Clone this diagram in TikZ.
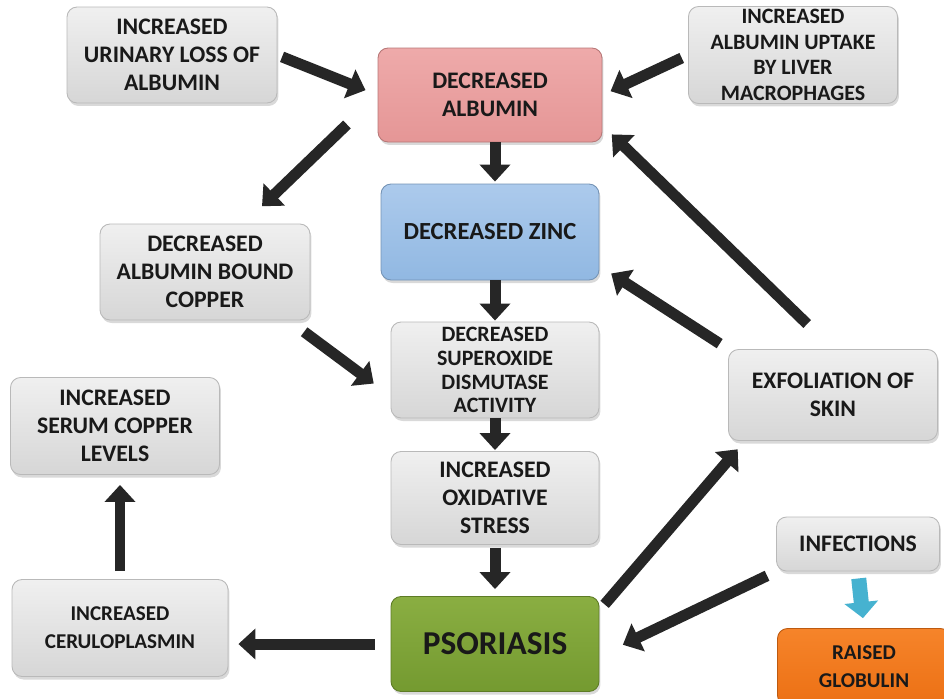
\documentclass[tikz,border=0pt]{standalone}
\usepackage{fontspec}
\setmainfont{Carlito}
\usetikzlibrary{arrows.meta,calc,shadows}

\definecolor{pinktop}{RGB}{238,170,170}
\definecolor{pinkbot}{RGB}{229,150,150}
\definecolor{bluetop}{RGB}{172,202,236}
\definecolor{bluebot}{RGB}{145,184,226}
\definecolor{greentop}{RGB}{138,174,66}
\definecolor{greenbot}{RGB}{116,154,48}
\definecolor{orangetop}{RGB}{246,132,42}
\definecolor{orangebot}{RGB}{236,112,20}
\definecolor{arrowgrey}{RGB}{38,38,38}
\definecolor{arrowcyan}{RGB}{70,178,208}

\begin{document}
\begin{tikzpicture}[x=0.02cm, y=-0.02cm,
    box/.style={rectangle, rounded corners=0.2cm, draw=gray!55, line width=0.5pt,
      align=center, inner sep=1pt, text=black!90,
      font=\fontsize{13.5}{16}\selectfont\bfseries,
      drop shadow={opacity=0.3, shadow xshift=0.03cm, shadow yshift=-0.06cm}},
    greybox/.style={box, top color=gray!12, bottom color=gray!32},
    pinkbox/.style={box, top color=pinktop, bottom color=pinkbot, draw=pinkbot!80!black},
    bluebox/.style={box, top color=bluetop, bottom color=bluebot, draw=bluebot!80!black},
    greenbox/.style={box, top color=greentop, bottom color=greenbot, draw=greenbot!80!black},
    orangebox/.style={box, top color=orangetop, bottom color=orangebot, draw=orangebot!80!black},
    bigarrow/.style={-{Triangle[width=0.6cm,length=0.34cm]}, line width=0.22cm, draw=arrowgrey},
    cyanarrow/.style={-{Triangle[width=0.66cm,length=0.32cm]}, line width=0.3cm, draw=arrowcyan}]
  \useasboundingbox (0,0) rectangle (944,698);
  \clip (0,0) rectangle (944,698);
  % Boxes
  \node[greybox, minimum width=4.2cm, minimum height=1.92cm] (urinary) at (172,55) {INCREASED\\URINARY LOSS OF\\ALBUMIN};
  \node[pinkbox, minimum width=4.48cm, minimum height=1.88cm] (albumin) at (490,95) {DECREASED\\ALBUMIN};
  \node[greybox, minimum width=4.18cm, minimum height=1.94cm, font=\fontsize{12.5}{14.6}\selectfont\bfseries] (liver) at (793,55) {INCREASED\\ALBUMIN UPTAKE\\BY LIVER\\MACROPHAGES};
  \node[bluebox, minimum width=4.36cm, minimum height=1.92cm, font=\fontsize{14}{16}\selectfont\bfseries] (zinc) at (490,232) {DECREASED ZINC};
  \node[greybox, minimum width=4.2cm, minimum height=1.92cm] (copper) at (205,272) {DECREASED\\ALBUMIN BOUND\\COPPER};
  \node[greybox, minimum width=4.16cm, minimum height=1.92cm, font=\fontsize{12.5}{13.6}\selectfont\bfseries] (sod) at (495,370) {DECREASED\\SUPEROXIDE\\DISMUTASE\\ACTIVITY};
  \node[greybox, minimum width=4.18cm, minimum height=1.94cm] (serum) at (115,426) {INCREASED\\SERUM COPPER\\LEVELS};
  \node[greybox, minimum width=4.16cm, minimum height=1.86cm] (oxid) at (495,498) {INCREASED\\OXIDATIVE\\STRESS};
  \node[greybox, minimum width=4.18cm, minimum height=1.82cm] (exfol) at (833,395) {EXFOLIATION OF\\SKIN};
  \node[greybox, minimum width=3.26cm, minimum height=1.08cm] (infect) at (858,544) {INFECTIONS};
  \node[greybox, minimum width=4.32cm, minimum height=1.94cm, font=\fontsize{12}{16}\selectfont\bfseries] (cerulo) at (120,628) {INCREASED\\CERULOPLASMIN};
  \node[greenbox, minimum width=4.16cm, minimum height=1.9cm, font=\fontsize{19}{22}\selectfont\bfseries] (psoriasis) at (495,644) {PSORIASIS};
  \node[orangebox, minimum width=3.46cm, minimum height=1.54cm, font=\fontsize{12}{16}\selectfont\bfseries] (globulin) at (864,667) {RAISED\\GLOBULIN};
  % Arrows
  \draw[bigarrow, shorten <=0.1cm, shorten >=0.26cm] (urinary.east) -- (albumin.west);
  \draw[bigarrow, shorten <=0.14cm, shorten >=0.18cm] (liver.west) -- (albumin.east);
  \draw[bigarrow, shorten <=0.85cm, shorten >=0.5cm] (albumin.west) -- ($(copper.north)!0.37!(copper.north east)$);
  \draw[bigarrow, shorten >=0.04cm] (albumin.south -| sod.north) -- (zinc.north -| sod.north);
  \draw[bigarrow, shorten >=0.02cm] (zinc.south -| sod.north) -- (sod.north);
  \draw[bigarrow, shorten <=0.38cm, shorten >=0.42cm] (copper.-30) -- (sod.194);
  \draw[bigarrow, shorten <=0.2cm, shorten >=0.28cm] (exfol.north west) -- ($(zinc.east)!0.7!(zinc.south east)$);
  \draw[bigarrow, shorten <=0.72cm, shorten >=0.26cm] (exfol.north) -- ($(albumin.east)!0.64!(albumin.south east)$);
  \draw[bigarrow, shorten >=0.02cm] (sod) -- (oxid);
  \draw[bigarrow, shorten <=0.06cm, shorten >=0.14cm] (oxid) -- (psoriasis);
  \draw[bigarrow, shorten <=0.16cm, shorten >=0.22cm] ($(psoriasis.north east)!0.3!(psoriasis.east)$) -- ($(exfol.south west)!0.08!(exfol.south east)$);
  \draw[bigarrow, shorten <=0.2cm, shorten >=0.52cm] (infect.south west) -- ($(psoriasis.east)!0.25!(psoriasis.south east)$);
  \draw[cyanarrow, shorten <=0.14cm, shorten >=0.2cm] (infect.south) -- (globulin.north);
  \draw[bigarrow, shorten <=0.32cm, shorten >=0.2cm] (psoriasis.west) -- (psoriasis.west -| cerulo.east);
  \draw[bigarrow, shorten <=0.16cm, shorten >=0.2cm] (cerulo.north) -- (cerulo.north |- serum.south);
\end{tikzpicture}
\end{document}
